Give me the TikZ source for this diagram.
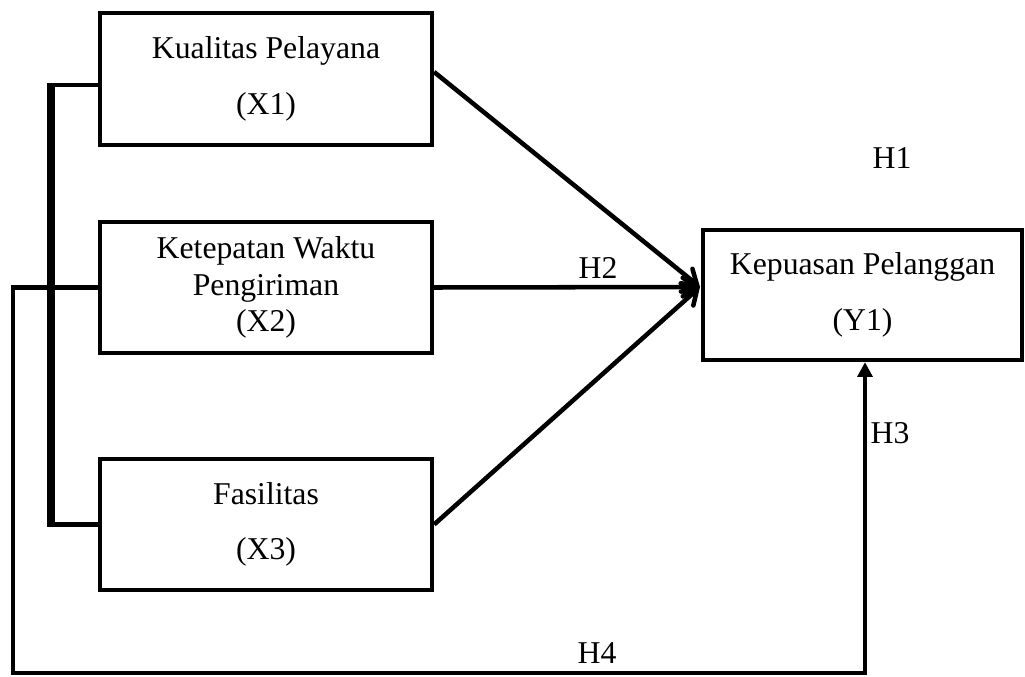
\documentclass[tikz,border=0pt]{standalone}
\usepackage{fontspec}
\setmainfont{Liberation Serif}
\usetikzlibrary{arrows.meta,calc}
\begin{document}
\begin{tikzpicture}[x=0.75pt,y=-0.75pt,
  box/.style={draw,line width=3.2pt,minimum width=249pt,minimum height=98.5pt,inner sep=0pt,align=center,font=\fontsize{23.8}{27.5}\selectfont},
  lbl/.style={inner sep=0pt,font=\fontsize{23.8}{27.5}\selectfont},
  conn/.style={line width=3.4pt},
  tipopen/.style={-{Straight Barb[length=10pt,width=14pt,line cap=round]}},
  tipfill/.style={-{Triangle[length=11pt,width=11pt]}},
]
\useasboundingbox (0,0) rectangle (1025,677);

% boxes
\node[box] (X1) at (266,79) {Kualitas Pelayana\\[14pt](X1)};
\node[box,minimum height=98.25pt] (X2) at (266,287.5) {Ketepatan Waktu\\Pengiriman\\(X2)};
\node[box] (X3) at (266,524.5) {Fasilitas\\[14pt](X3)};
\node[box,minimum width=239.25pt,minimum height=97.5pt] (Y1) at (862.5,295) {Kepuasan Pelanggan\\[14pt](Y1)};

% converging arrows
\coordinate (tip) at (700,287);
\draw[conn,tipopen] ($(X1.east)+(0,-7)$) -- (tip);
\draw[conn,tipopen] (X2.east) -- (tip);
\draw[conn,tipopen] (X3.east) -- (tip);

% bracket on the left
\coordinate (bt) at (51,83);
\coordinate (bb) at (51,527);
\draw[line width=6pt] (bt) -- (bb);
\draw[conn] ($(X1.west)+(0,6)$) -| (bt);
\draw[conn] (X3.west) -| (bb);

% outer loop to Y1
\coordinate (lo1) at (13,287.5);
\coordinate (lo2) at (13,673);
\coordinate (lo3) at (865,673);
\draw[conn,tipfill] (X2.west) -- (lo1) -- (lo2) -- (lo3) -- (Y1.south -| lo3);

% labels
\node[lbl] (H1) at (892,158) {H1};
\node[lbl] (H2) at (598,268) {H2};
\node[lbl] (H3) at (890,433) {H3};
\node[lbl] (H4) at (597,653) {H4};
\end{tikzpicture}
\end{document}
